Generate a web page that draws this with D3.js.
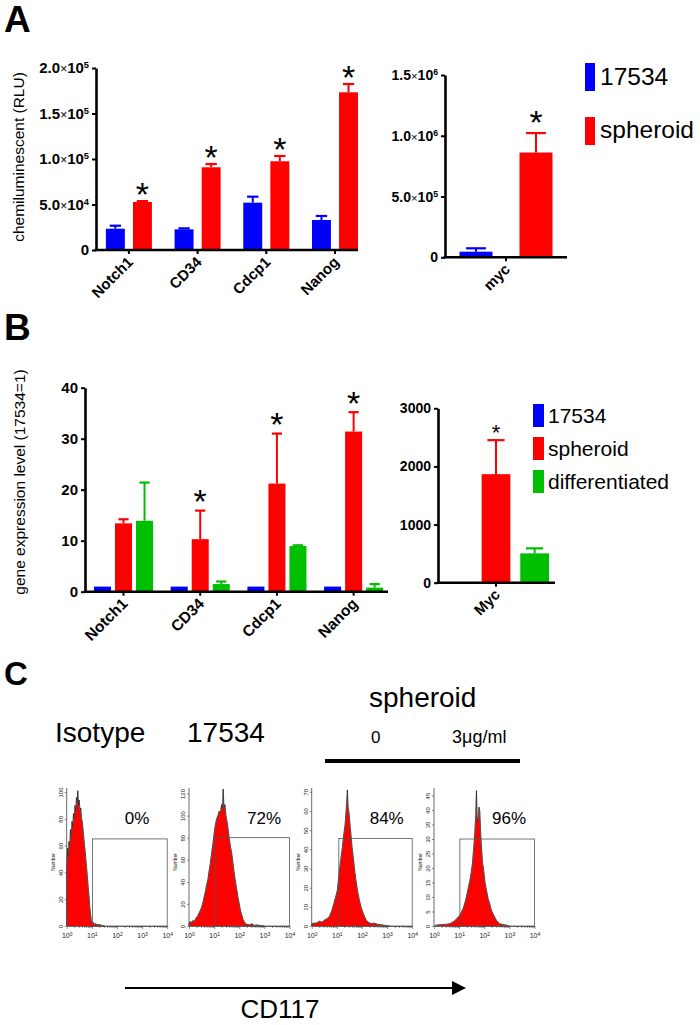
<!DOCTYPE html>
<html><head><meta charset="utf-8">
<script src="https://cdn.jsdelivr.net/npm/d3@7"></script>
<style>
body{margin:0;background:#fff}
svg{display:block}
text{font-family:"Liberation Sans",Arial,Helvetica,sans-serif}
</style>
</head><body><script>
// ---------------- DATA ----------------
// Panel A (chemiluminescence, RLU)
const genesA = ["Notch1","CD34","Cdcp1","Nanog"];
const seriesA = ["17534","spheroid"];
const rlu17534 = [23400, 22700, 52000, 33000];
const rlu17534Sem = [3300, 1100, 6600, 4400];
const rluSpheroid = [52750, 90900, 97500, 173300];
const rluSpheroidSem = [1000, 3600, 5800, 9100];
const rluStar17534 = [0,0,0,0];
const rluStarSpheroid = [1,1,1,1];
const rluTicks = [0, 50000, 100000, 150000, 200000];

const genesA2 = ["myc"];
const myc17534 = [46000];
const myc17534Sem = [28000];
const mycSpheroid = [862000];
const mycSpheroidSem = [160000];
const mycStar17534 = [0];
const mycStarSpheroid = [1];
const mycTicks = [0, 500000, 1000000, 1500000];

// Panel B (gene expression level, 17534 = 1)
const genesB = ["Notch1","CD34","Cdcp1","Nanog"];
const seriesB = ["17534","spheroid","differentiated"];
const expr17534 = [1, 1, 1, 1];
const expr17534Sem = [0, 0, 0, 0];
const exprSpheroid = [13.4, 10.3, 21.2, 31.4];
const exprSpheroidSem = [0.8, 5.6, 9.8, 3.8];
const exprDiff = [13.9, 1.5, 8.95, 0.8];
const exprDiffSem = [7.5, 0.5, 0.15, 0.7];
const exprStar17534 = [0,0,0,0];
const exprStarSpheroid = [0,1,1,1];
const exprStarDiff = [0,0,0,0];
const exprTicks = [0, 10, 20, 30, 40];

const genesB2 = ["Myc"];
const myc2_17534 = [1];
const myc2_17534Sem = [0];
const myc2Spheroid = [1867];
const myc2SpheroidSem = [585];
const myc2Diff = [505];
const myc2DiffSem = [86];
const myc2Star = [[0],[1],[0]];
const myc2Ticks = [0, 1000, 2000, 3000];

// Panel C (flow cytometry, CD117) : [log10 intensity, count]
const histPercent = ["0%","72%","84%","96%"];
const histIsotype = [[0.00,0],[0.00,42],[0.03,58],[0.06,52],[0.09,63],[0.12,60],[0.15,72],[0.18,66],[0.21,78],[0.24,74],[0.27,84],[0.30,80],[0.33,90],[0.36,86],[0.39,96],[0.42,92],[0.44,101],[0.47,90],[0.50,94],[0.53,86],[0.56,88],[0.59,80],[0.62,78],[0.65,72],[0.68,66],[0.71,60],[0.74,55],[0.77,48],[0.80,42],[0.83,35],[0.86,28],[0.89,22],[0.92,14],[0.95,9],[0.98,4],[1.01,2],[1.05,3],[1.10,1],[1.15,2],[1.20,1],[1.30,1],[1.40,0.5],[1.50,0]];
const hist17534 = [[0.00,0],[0.00,2],[0.05,4],[0.10,3],[0.15,5],[0.20,4],[0.25,6],[0.30,8],[0.35,9],[0.40,12],[0.45,14],[0.50,17],[0.55,21],[0.60,26],[0.65,31],[0.70,37],[0.75,42],[0.80,50],[0.85,57],[0.90,66],[0.95,74],[1.00,84],[1.05,92],[1.10,97],[1.15,100],[1.20,104],[1.25,103],[1.30,110],[1.33,106],[1.36,124],[1.39,108],[1.43,110],[1.47,100],[1.52,94],[1.56,87],[1.60,80],[1.65,72],[1.70,66],[1.75,57],[1.80,48],[1.85,40],[1.90,33],[1.95,26],[2.00,20],[2.05,14],[2.10,10],[2.15,6],[2.20,4],[2.25,2],[2.30,1.5],[2.40,1],[2.50,2],[2.60,0.5],[2.70,1],[2.80,0.5],[3.00,0]];
const histSph0 = [[0.00,0],[0.00,1.2],[0.10,1.5],[0.20,1.6],[0.30,2.5],[0.41,2],[0.50,3],[0.61,3.8],[0.70,5],[0.75,6.4],[0.80,8],[0.88,11.7],[0.95,15],[1.02,18.6],[1.07,25],[1.12,30.8],[1.17,36],[1.22,41],[1.27,47],[1.33,53],[1.37,60],[1.42,71],[1.45,62],[1.49,58.6],[1.53,52],[1.56,48],[1.60,42],[1.67,34],[1.72,28],[1.76,24],[1.83,18],[1.90,13.4],[1.96,10],[2.03,7.3],[2.10,5],[2.17,3],[2.25,2],[2.37,1.2],[2.50,1.5],[2.64,0.8],[2.80,0.6],[2.91,0.3],[3.10,0]];
const histSph3 = [[0.04,0],[0.04,0.2],[0.20,0.4],[0.37,0.5],[0.50,0.6],[0.63,0.8],[0.76,1.4],[0.85,2],[0.90,2.5],[0.97,3.2],[1.03,3.7],[1.10,5],[1.16,6],[1.23,8],[1.29,10],[1.36,13],[1.43,15.7],[1.48,18.5],[1.53,21.5],[1.58,27],[1.62,31.8],[1.66,38],[1.69,46.7],[1.72,36],[1.76,37.5],[1.79,41],[1.82,39.8],[1.86,32],[1.89,27],[1.93,22],[1.98,19],[2.03,15],[2.09,12.3],[2.15,9.5],[2.22,7.7],[2.28,5.5],[2.35,4.2],[2.42,3],[2.48,2],[2.55,1.3],[2.61,0.8],[2.75,0.5],[2.88,0.3],[3.00,0]];
const histYMax = [103, 125, 72, 47.6];
const histYTicks = [[0,20,40,60,80,100],[0,20,40,60,80,100,120],[0,10,20,30,40,50,60,70],[0,5,10,15,20,25,30,35,40,45]];
const histGateLo = [1.03, 1.03, 1.08, 1.03];
const histGateTop = [65, 80, 45.6, 30];

// ---------------- DRAWING ----------------
const COLORS = ["#0000ff","#ff0000","#00bf00"];
const FONT = '"Liberation Sans",Arial,sans-serif';
const svg = d3.select("body").append("svg").attr("width",700).attr("height",1025);

function sciLabel(sel, fs){
  sel.each(function(d){
    const t = d3.select(this).text(null);
    if (d === 0){ t.text("0"); return; }
    const e = Math.floor(Math.log10(d) + 1e-9);
    const m = (d / Math.pow(10,e)).toFixed(1);
    t.append("tspan").text(m);
    t.append("tspan").attr("font-weight","normal").attr("font-size",(fs*0.8)+"px").text("×");
    t.append("tspan").text("10");
    t.append("tspan").attr("dy","-0.55em").attr("font-size",(fs*0.62)+"px").text(e);
  });
}

function barChart(cfg){
  const g = svg.append("g");
  const x = d3.scaleBand().domain(cfg.cats).range(cfg.xr)
    .paddingInner(cfg.pi).paddingOuter(cfg.po).align(cfg.align);
  const xs = d3.scaleBand().domain(cfg.series).range([0, x.bandwidth()]).paddingInner(cfg.spi);
  const y = d3.scaleLinear().domain(cfg.ydom).range(cfg.yr);
  const rows = cfg.cats.flatMap((c,ci)=>cfg.series.map((s,si)=>({
    c, s, si, v: cfg.values[si][ci], e: cfg.sems[si][ci], star: cfg.stars[si][ci]
  })));
  const bw = xs.bandwidth();
  g.selectAll("rect.bar").data(rows).join("rect").attr("class","bar")
    .attr("x", d=>x(d.c)+xs(d.s)).attr("width", bw)
    .attr("y", d=>y(d.v)).attr("height", d=>y(0)-y(d.v))
    .attr("fill", d=>COLORS[d.si]);
  const eb = rows.filter(d=>d.e>0);
  g.selectAll("line.ev").data(eb).join("line").attr("class","ev")
    .attr("x1", d=>x(d.c)+xs(d.s)+bw/2).attr("x2", d=>x(d.c)+xs(d.s)+bw/2)
    .attr("y1", d=>y(d.v)).attr("y2", d=>y(d.v+d.e))
    .attr("stroke", d=>COLORS[d.si]).attr("stroke-width",2);
  g.selectAll("line.ec").data(eb).join("line").attr("class","ec")
    .attr("x1", d=>x(d.c)+xs(d.s)+bw*0.2).attr("x2", d=>x(d.c)+xs(d.s)+bw*0.8)
    .attr("y1", d=>y(d.v+d.e)).attr("y2", d=>y(d.v+d.e))
    .attr("stroke", d=>COLORS[d.si]).attr("stroke-width",2.2);
  g.selectAll("text.star").data(rows.filter(d=>d.star)).join("text").attr("class","star")
    .attr("x", d=>x(d.c)+xs(d.s)+bw/2)
    .attr("y", d=>y(d.v+d.e) - cfg.starGap + cfg.starFs*0.58)
    .attr("text-anchor","middle").attr("font-size", cfg.starFs+"px").text("*");
  // axes
  const ya = g.append("g").attr("transform",`translate(${cfg.xr[0]},0)`)
    .call(d3.axisLeft(y).tickValues(cfg.ticks).tickFormat(d3.format("d")).tickSize(4).tickSizeOuter(0).tickPadding(3));
  ya.selectAll("text").attr("font-size", cfg.tickFs+"px").attr("font-weight","bold")
    .attr("fill","#000").attr("font-family",FONT);
  if (cfg.sci) sciLabel(ya.selectAll(".tick text"), cfg.tickFs);
  const xa = g.append("g").attr("transform",`translate(0,${cfg.yr[0]})`)
    .call(d3.axisBottom(x).tickSize(4).tickSizeOuter(0));
  xa.selectAll(".tick text")
    .attr("transform","translate(5,13) rotate(-45)")
    .attr("x",0).attr("y",0).attr("dy",0)
    .attr("text-anchor","end").attr("font-size", cfg.xFs+"px").attr("font-weight","bold")
    .attr("fill","#000").attr("font-family",FONT);
  [ya, xa].forEach(a=>{
    a.select(".domain").attr("stroke","#000").attr("stroke-width",2.6);
    a.selectAll(".tick line").attr("stroke","#000").attr("stroke-width",2);
  });
  xa.select(".domain").attr("d", `M${cfg.xr[0]-1.3},0H${cfg.xr[1]}`);
  return g;
}

// Panel labels
svg.append("text").attr("x",4).attr("y",32).attr("font-size","37px").attr("font-weight","bold").text("A");
svg.append("text").attr("x",4).attr("y",340).attr("font-size","37px").attr("font-weight","bold").text("B");
svg.append("text").attr("x",4).attr("y",685).attr("font-size","33px").attr("font-weight","bold").text("C");

// A left
barChart({cats:genesA, series:seriesA, values:[rlu17534, rluSpheroid], sems:[rlu17534Sem, rluSpheroidSem],
  stars:[rluStar17534, rluStarSpheroid],
  xr:[96,358], pi:0.33, po:0.072, align:1, spi:0.3,
  ydom:[0,200000], yr:[250,68], ticks:rluTicks, sci:true, tickFs:15, xFs:15, starFs:34, starGap:15});
svg.append("text").attr("transform","translate(24,157) rotate(-90)").attr("text-anchor","middle")
  .attr("font-size","15.5px").text("chemiluminescent (RLU)");

// A right
barChart({cats:genesA2, series:seriesA, values:[myc17534, mycSpheroid], sems:[myc17534Sem, mycSpheroidSem],
  stars:[mycStar17534, mycStarSpheroid],
  xr:[445,567], pi:0, po:0.156, align:0.5, spi:0.45,
  ydom:[0,1500000], yr:[257.3,75], ticks:mycTicks, sci:true, tickFs:14, xFs:15, starFs:34, starGap:19});

// Legend A
const legA = svg.append("g");
seriesA.forEach((s,i)=>{
  legA.append("rect").attr("x",585).attr("y",63+i*54).attr("width",10).attr("height",28).attr("fill",COLORS[i]);
  legA.append("text").attr("x",600).attr("y",85+i*53).attr("font-size","24.5px").text(s);
});

// B left
barChart({cats:genesB, series:seriesB, values:[expr17534, exprSpheroid, exprDiff], sems:[expr17534Sem, exprSpheroidSem, exprDiffSem],
  stars:[exprStar17534, exprStarSpheroid, exprStarDiff],
  xr:[85,388], pi:0.23, po:0.09, align:0.65, spi:0.19,
  ydom:[0,40], yr:[591.7,387.7], ticks:exprTicks, sci:false, tickFs:15, xFs:15.5, starFs:34, starGap:17});
svg.append("text").attr("transform","translate(25,482) rotate(-90)").attr("text-anchor","middle")
  .attr("font-size","15.5px").text("gene expression level (17534=1)");

// B right
barChart({cats:genesB2, series:seriesB, values:[myc2_17534, myc2Spheroid, myc2Diff], sems:[myc2_17534Sem, myc2SpheroidSem, myc2DiffSem],
  stars:myc2Star,
  xr:[438,555], pi:0, po:0.052, align:0.4545, spi:0.256,
  ydom:[0,3000], yr:[582.7,408.3], ticks:myc2Ticks, sci:false, tickFs:14, xFs:15, starFs:22, starGap:13});

// Legend B
const legB = svg.append("g");
seriesB.forEach((s,i)=>{
  legB.append("rect").attr("x",533).attr("y",404+i*33).attr("width",11).attr("height",23).attr("fill",COLORS[i]);
  legB.append("text").attr("x",548).attr("y",423+i*33).attr("font-size","21px").text(s);
});

// Panel C headings
svg.append("text").attr("x",55).attr("y",742).attr("font-size","28px").text("Isotype");
svg.append("text").attr("x",187).attr("y",742).attr("font-size","28px").text("17534");
svg.append("text").attr("x",369).attr("y",707).attr("font-size","28px").text("spheroid");
svg.append("text").attr("x",371).attr("y",743).attr("font-size","17px").text("0");
svg.append("text").attr("x",452).attr("y",743).attr("font-size","18px").text("3μg/ml");
svg.append("line").attr("x1",325).attr("x2",520).attr("y1",761).attr("y2",761).attr("stroke","#000").attr("stroke-width",4);

// Histograms
const histData = [histIsotype, hist17534, histSph0, histSph3];
const histX0 = [66.7, 189, 311.7, 434];
histData.forEach((data, i)=>{
  const x0 = histX0[i];
  const g = svg.append("g");
  const x = d3.scaleLog().domain([1,1e4]).range([x0, x0+100.5]);
  const y = d3.scaleLinear().domain([0, histYMax[i]]).range([926, 788]);
  const area = d3.area().x(d=>x(Math.pow(10,d[0]))).y0(926).y1(d=>y(d[1]));
  const line = d3.line().x(d=>x(Math.pow(10,d[0]))).y(d=>y(d[1]));
  g.append("path").attr("d", area(data)).attr("fill","#ff0000");
  g.append("path").attr("d", line(data)).attr("fill","none").attr("stroke","#999").attr("stroke-width",0.9);
  g.append("path").attr("d", line(data)).attr("fill","none").attr("stroke","#000").attr("stroke-width",0.5);
  // gate
  const gx = x(Math.pow(10, histGateLo[i])), gy = y(histGateTop[i]);
  g.append("rect").attr("x",gx).attr("y",gy).attr("width",x(1e4)-gx).attr("height",926-gy)
    .attr("fill","none").attr("stroke","#555").attr("stroke-width",0.8);
  g.append("text").attr("x",x0+58).attr("y",824).attr("font-size","17px").text(histPercent[i]);
  // axes
  const xa = g.append("g").attr("transform","translate(0,926)")
    .call(d3.axisBottom(x).tickSize(2).tickSizeOuter(0).tickPadding(2).tickFormat(()=>""));
  xa.selectAll(".tick").each(function(d){
    const major = Math.abs(Math.log10(d) - Math.round(Math.log10(d))) < 1e-9;
    const t = d3.select(this);
    t.select("line").attr("y2", major ? 3 : 2);
    if (major){
      const tx = t.select("text").attr("y",12).attr("dy",0).attr("font-size","7px").attr("fill","#222");
      tx.append("tspan").text("10");
      tx.append("tspan").attr("dy","-0.4em").attr("font-size","5px").text(Math.round(Math.log10(d)));
    }
  });
  const ya = g.append("g").attr("transform",`translate(${x0},0)`)
    .call(d3.axisLeft(y).tickValues(histYTicks[i]).tickSize(2).tickSizeOuter(0));
  ya.selectAll(".tick text").attr("transform","rotate(-90)").attr("x",0).attr("y",-4).attr("dy",0)
    .attr("text-anchor","middle").attr("font-size","6px").attr("fill","#222");
  [xa, ya].forEach(a=>{
    a.select(".domain").attr("stroke","#444").attr("stroke-width",0.8);
    a.selectAll(".tick line").attr("stroke","#444").attr("stroke-width",0.6);
  });
  ya.select(".domain").attr("d", "M0,926V788");
  g.append("text").attr("transform",`translate(${x0-12},862) rotate(-90)`).attr("text-anchor","middle")
    .attr("font-size","5px").attr("fill","#222").text("Number");
});

// CD117 arrow
svg.append("line").attr("x1",125).attr("x2",453).attr("y1",988).attr("y2",988).attr("stroke","#000").attr("stroke-width",2);
svg.append("path").attr("d","M452,981L466,988L452,995Z").attr("fill","#000");
svg.append("text").attr("x",280).attr("y",1018).attr("text-anchor","middle").attr("font-size","26px").text("CD117");
</script></body></html>
